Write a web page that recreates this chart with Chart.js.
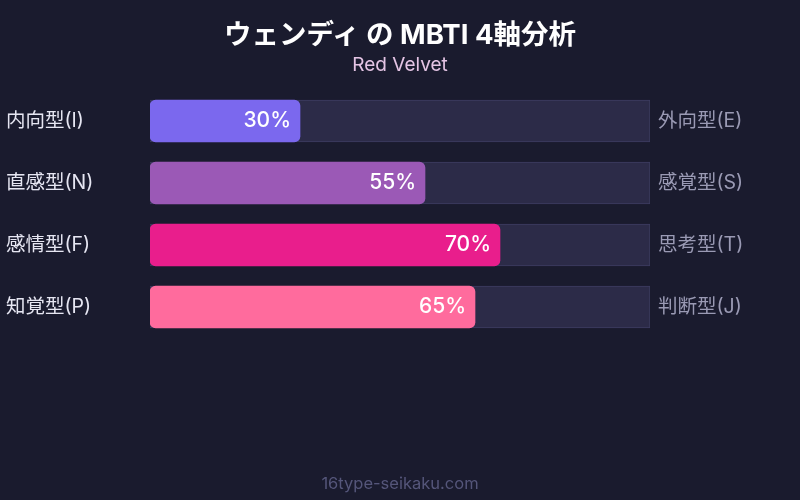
<!DOCTYPE html>
<html>
<head>
<meta charset="utf-8">
<script src="https://cdn.jsdelivr.net/npm/chart.js@4"></script>
<style>
  html, body { margin: 0; padding: 0; background: #1a1b2e; }
  #wrap { position: relative; width: 800px; height: 500px; font-family: Inter, "Noto Sans CJK JP", sans-serif; }
  canvas { position: absolute; left: 0; top: 0; }
  .txt { position: absolute; left: 0; width: 800px; text-align: center; }
  #title { top: 12px; font-size: 27.5px; font-weight: 700; color: #ffffff; }
  #sub { top: 53px; font-size: 19px; color: #e4c4e4; }
  #foot { top: 473px; font-size: 16.5px; color: #55567a; }
</style>
</head>
<body>
<div id="wrap">
  <canvas id="c" width="800" height="500"></canvas>
  <div class="txt" id="title">ウェンディ の MBTI 4軸分析</div>
  <div class="txt" id="sub">Red Velvet</div>
  <div class="txt" id="foot">16type-seikaku.com</div>
</div>
<script>
const leftLabels = ["内向型(I)", "直感型(N)", "感情型(F)", "知覚型(P)"];
const rightLabels = ["外向型(E)", "感覚型(S)", "思考型(T)", "判断型(J)"];
const values = [30, 55, 70, 65];
const trackValues = [100, 100, 100, 100];
const barColors = ["#7b68ee", "#9b59b6", "#e91e8c", "#ff6b9d"];

const FONT = "Inter, 'Noto Sans CJK JP', sans-serif";

const valueLabels = {
    id: "valueLabels",
    afterDatasetsDraw(chart) {
        const ctx = chart.ctx;
        const meta = chart.getDatasetMeta(0);
        ctx.save();
        ctx.fillStyle = "#ffffff";
        ctx.font = "500 21px " + FONT;
        ctx.textAlign = "right";
        ctx.textBaseline = "middle";
        meta.data.forEach((bar, i) => {
            ctx.fillText(values[i] + "%", bar.x - 9, bar.y);
        });
        ctx.restore();
    },
};

new Chart(document.getElementById("c"), {
    type: "bar",
    data: {
        labels: leftLabels,
        datasets: [
            {
                data: values,
                backgroundColor: barColors,
                borderRadius: 6,
                borderSkipped: false,
                barThickness: 42,
                grouped: false,
                order: 1,
            },
            {
                data: trackValues,
                backgroundColor: "#2c2b48",
                borderColor: "#3d3c60",
                borderWidth: 1,
                barThickness: 42,
                grouped: false,
                order: 2,
            },
        ],
    },
    options: {
        indexAxis: "y",
        responsive: false,
        animation: false,
        layout: { padding: { top: 90, bottom: 162, left: 6, right: 0 } },
        plugins: {
            legend: { display: false },
            title: { display: false },
            tooltip: { enabled: false },
        },
        scales: {
            x: { display: false, min: 0, max: 100 },
            y: {
                position: "left",
                grid: { display: false },
                border: { display: false },
                ticks: {
                    color: "#e6e6f2",
                    font: { size: 19.5, family: FONT },
                    crossAlign: "far",
                    padding: 0,
                },
                afterFit(scale) { scale.width = 144; },
            },
            y2: {
                type: "category",
                labels: rightLabels,
                position: "right",
                offset: true,
                grid: { display: false },
                border: { display: false },
                ticks: {
                    color: "#9a9ab4",
                    font: { size: 19.5, family: FONT },
                    crossAlign: "near",
                    padding: 0,
                },
                afterFit(scale) { scale.width = 150; },
            },
        },
    },
    plugins: [valueLabels],
});
</script>
</body>
</html>
